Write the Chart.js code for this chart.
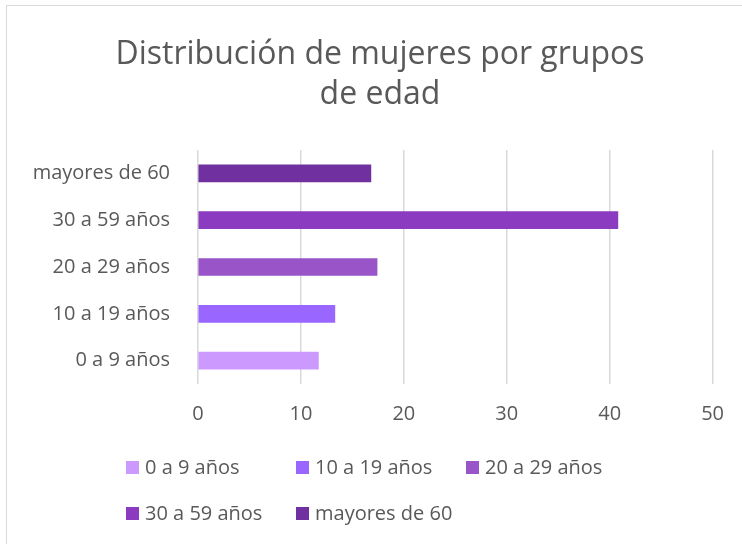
<!DOCTYPE html>
<html lang="es">
<head>
<meta charset="utf-8">
<title>Distribución de mujeres por grupos de edad</title>
<script src="https://cdn.jsdelivr.net/npm/chart.js@4/dist/chart.umd.min.js"></script>
<style>
  html, body { margin: 0; padding: 0; background: #fff; }
  #caja { position: relative; width: 742px; height: 544px; overflow: hidden; }
  #marco { position: absolute; left: 6px; top: 5px; width: 760px; height: 560px; border: 1px solid #d9d9d9; box-sizing: border-box; }
  #myChart { position: absolute; left: 0; top: 0; }
  #leyenda { position: absolute; left: 126px; top: 454px; width: 560px; font-family: 'Open Sans', sans-serif; font-size: 20px; color: #595959; }
  #leyenda .item { position: absolute; white-space: nowrap; line-height: 26px; }
  #leyenda .caja-color { display: inline-block; width: 13px; height: 13px; margin-right: 6px; vertical-align: 0px; }
</style>
</head>
<body>
<div id="caja">
  <div id="marco"></div>
  <canvas id="myChart" width="742" height="544"></canvas>
  <div id="leyenda"></div>
</div>
<script>
const grupos = ['0 a 9 años', '10 a 19 años', '20 a 29 años', '30 a 59 años', 'mayores de 60']
const valores = [11.7, 13.3, 17.4, 40.8, 16.8]
const colores = ['#cc99ff', '#9966ff', '#9955c8', '#8a3bc0', '#7030a0']
const ticksX = [0, 10, 20, 30, 40, 50]

;(() => {
  'use strict'

  const ctx = document.getElementById('myChart')
  const texto = '#595959'
  const fuente = "'Open Sans', sans-serif"

  // una serie por grupo, igual que en Excel
  const datasets = grupos.map((g, i) => ({
    label: g,
    data: grupos.map((_, j) => (j === i ? valores[i] : null)),
    backgroundColor: colores[i],
    barThickness: 17,
    grouped: false
  }))

  // Excel centra el titulo un poco mas a la derecha
  const moverTitulo = {
    id: 'moverTitulo',
    afterLayout(chart) {
      if (chart.titleBlock) {
        chart.titleBlock.left = 47
        chart.titleBlock.right = 713
      }
    }
  }

  new Chart(ctx, {
    type: 'bar',
    data: { labels: grupos, datasets },
    plugins: [moverTitulo],
    options: {
      indexAxis: 'y',
      responsive: false,
      animation: false,
      layout: { padding: { top: 35, left: 8, right: 29, bottom: 110 } },
      plugins: {
        legend: { display: false },
        tooltip: { enabled: false },
        title: {
          display: true,
          text: ['Distribución de mujeres por grupos', 'de edad'],
          color: texto,
          font: { family: fuente, size: 32, weight: 'normal', lineHeight: 1.25 },
          padding: { top: 0, bottom: 35 }
        }
      },
      scales: {
        x: {
          min: ticksX[0],
          max: ticksX[ticksX.length - 1],
          afterBuildTicks: s => { s.ticks = ticksX.map(v => ({ value: v })) },
          afterFit: s => { s.height = 50 },
          grid: { color: '#d9d9d9', lineWidth: 1.5, drawTicks: false },
          border: { display: false },
          ticks: { color: texto, font: { family: fuente, size: 20 }, padding: 18 }
        },
        y: {
          reverse: true,
          afterFit: s => { s.width = 190 },
          grid: { display: false, drawTicks: false },
          border: { display: false },
          ticks: { color: texto, font: { family: fuente, size: 20 }, padding: 28 }
        }
      }
    }
  })

  // leyenda en dos filas con columnas fijas
  const leyenda = document.getElementById('leyenda')
  grupos.forEach((g, i) => {
    const item = document.createElement('div')
    item.className = 'item'
    item.style.left = (i % 3) * 170 + 'px'
    item.style.top = Math.floor(i / 3) * 46 + 'px'
    const cuadro = document.createElement('span')
    cuadro.className = 'caja-color'
    cuadro.style.background = colores[i]
    item.appendChild(cuadro)
    item.appendChild(document.createTextNode(g))
    leyenda.appendChild(item)
  })
})()
</script>
</body>
</html>
